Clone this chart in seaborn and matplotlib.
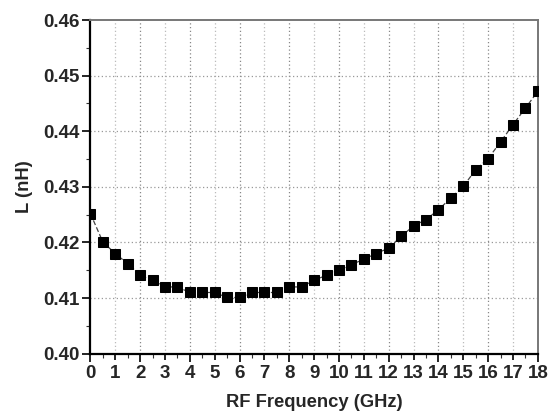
import matplotlib
matplotlib.use("Agg")
import matplotlib.pyplot as plt
import seaborn as sns
import numpy as np
import pandas as pd
from matplotlib.ticker import MultipleLocator

freq_ghz = [0.0, 0.5, 1.0, 1.5, 2.0, 2.5, 3.0, 3.5, 4.0, 4.5, 5.0, 5.5, 6.0, 6.5,
            7.0, 7.5, 8.0, 8.5, 9.0, 9.5, 10.0, 10.5, 11.0, 11.5, 12.0, 12.5,
            13.0, 13.5, 14.0, 14.5, 15.0, 15.5, 16.0, 16.5, 17.0, 17.5, 18.0]
inductance_nh = [0.4252, 0.4201, 0.4180, 0.4162, 0.4141, 0.4132, 0.4120, 0.4120,
                 0.4110, 0.4110, 0.4110, 0.4101, 0.4101, 0.4110, 0.4110, 0.4110,
                 0.4120, 0.4120, 0.4132, 0.4141, 0.4150, 0.4160, 0.4170, 0.4180,
                 0.4190, 0.4211, 0.4230, 0.4241, 0.4259, 0.4280, 0.4301, 0.4331,
                 0.4351, 0.4381, 0.4412, 0.4442, 0.4472]
x_ticks = list(range(0, 19))
y_ticks = [0.40, 0.41, 0.42, 0.43, 0.44, 0.45, 0.46]

df = pd.DataFrame({"f": freq_ghz, "L": inductance_nh})

sns.set_theme(style="white")
plt.rcParams["font.family"] = ["Liberation Sans", "DejaVu Sans"]

fig = plt.figure(figsize=(5.58, 4.19), dpi=100)
ax = fig.add_axes([0.162, 0.156, 0.802, 0.796])

sns.lineplot(data=df, x="f", y="L", ax=ax, color="#444444", linewidth=0.9,
             linestyle=(0, (4, 2)), marker="s", markersize=6.5,
             markerfacecolor="black", markeredgecolor="black", zorder=3)

ax.set_xlim(0, 18)
ax.set_ylim(0.40, 0.46)
ax.set_xticks(x_ticks)
ax.set_xticklabels([str(t) for t in x_ticks])
ax.set_yticks(y_ticks)
ax.set_yticklabels([f"{t:.2f}" for t in y_ticks])
ax.xaxis.set_minor_locator(MultipleLocator(0.5))
ax.yaxis.set_minor_locator(MultipleLocator(0.005))

# grids: darker on even GHz, lighter on odd
for xv in x_ticks[1:-1]:
    c = "#888888" if xv % 2 == 0 else "#bbbbbb"
    ax.axvline(xv, color=c, linestyle=(0, (1, 2)), linewidth=0.9, zorder=1)
for yv in y_ticks[1:-1]:
    ax.axhline(yv, color="#999999", linestyle=(0, (1, 2)), linewidth=0.9, zorder=1)

ax.tick_params(axis="both", which="major", direction="out", length=6, width=1.2,
               color="black", labelsize=13.5, pad=2, bottom=True, left=True)
ax.tick_params(axis="both", which="minor", direction="out", length=3, width=0.8,
               color="#333333", bottom=True, left=True)
for t, xv in zip(ax.xaxis.get_major_ticks(), x_ticks):
    if xv % 2 == 1:
        t.tick1line.set_color("#666666")
        t.tick1line.set_markersize(4.5)
for lbl in ax.get_xticklabels() + ax.get_yticklabels():
    lbl.set_fontweight("bold")

for side in ["left", "bottom"]:
    ax.spines[side].set_color("black")
    ax.spines[side].set_linewidth(1.6)
for side in ["top", "right"]:
    ax.spines[side].set_color("#777777")
    ax.spines[side].set_linewidth(1.4)

ax.set_xlabel("RF Frequency (GHz)", fontsize=13.2, fontweight="bold", labelpad=9)
ax.set_ylabel("L (nH)", fontsize=13.2, fontweight="bold", labelpad=7)

fig.savefig("out.png", dpi=100, facecolor="white")
